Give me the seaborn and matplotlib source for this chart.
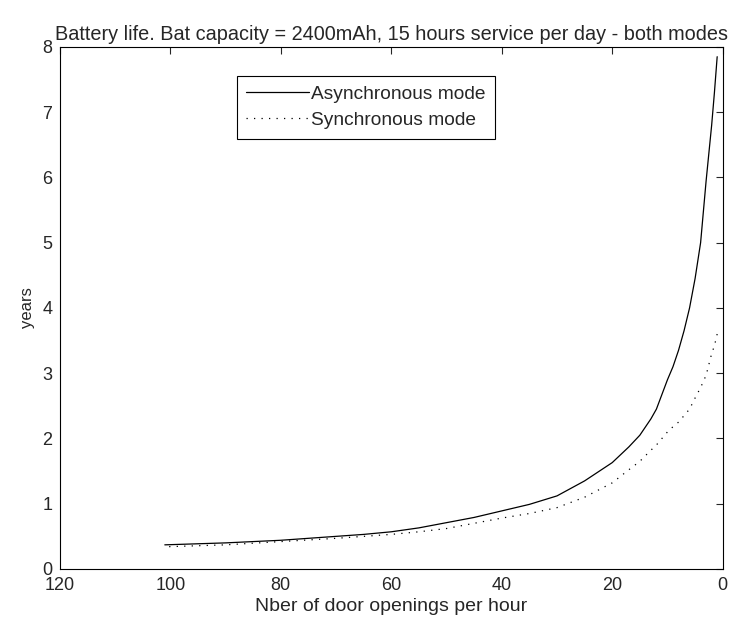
import pandas as pd
import matplotlib
matplotlib.use('Agg')
import matplotlib.pyplot as plt
import seaborn as sns

# door openings per hour
openings = [1, 1.5, 2, 3, 4, 5, 6, 7, 8, 9, 10, 12, 13, 15, 17, 20, 25, 30, 35, 40, 45, 50,
            55, 60, 65, 70, 80, 90, 101]
# battery life in years
async_years = [7.85, 7.3, 6.8, 5.95, 5.0, 4.45, 4.0, 3.65, 3.35, 3.1, 2.9, 2.45, 2.3, 2.05,
               1.87, 1.63, 1.35, 1.12, 0.99, 0.89, 0.79, 0.71, 0.63, 0.57, 0.53, 0.50, 0.44,
               0.40, 0.37]
sync_years = [3.6, 3.42, 3.3, 2.97, 2.78, 2.62, 2.45, 2.35, 2.25, 2.18, 2.1, 1.9, 1.82, 1.65,
              1.52, 1.32, 1.1, 0.94, 0.85, 0.78, 0.70, 0.62, 0.57, 0.53, 0.50, 0.47, 0.42,
              0.37, 0.34]

x_ticks = [120, 100, 80, 60, 40, 20, 0]
y_ticks = [0, 1, 2, 3, 4, 5, 6, 7, 8]

sns.set_style('white')
plt.rcParams['font.family'] = ['Liberation Sans', 'DejaVu Sans']

df_async = pd.DataFrame({'openings': openings, 'years': async_years})
df_sync = pd.DataFrame({'openings': openings, 'years': sync_years})

fig = plt.figure(figsize=(7.3, 6.23), dpi=100)
ax = fig.add_axes([0.082, 0.0867, 0.908, 0.838])

sns.lineplot(data=df_async, x='openings', y='years', ax=ax, color='black', linewidth=0.9,
             label='Asynchronous mode')
sns.lineplot(data=df_sync, x='openings', y='years', ax=ax, color='black', linewidth=0.9,
             linestyle=(0, (1, 5)), label='Synchronous mode')

ax.set_xlim(120, 0)
ax.set_ylim(0, 8)
ax.set_xticks(x_ticks)
ax.set_yticks(y_ticks)
ax.tick_params(direction='in', length=5, width=0.8, top=True, right=True, labelsize=13)
ax.tick_params(axis='x', pad=6)
ax.tick_params(axis='y', pad=5.5)
for s in ax.spines.values():
    s.set_color('black')
    s.set_linewidth(0.8)

ax.set_title('Battery life. Bat capacity = 2400mAh, 15 hours service per day - both modes',
             fontsize=14.3, pad=5)
ax.set_xlabel('Nber of door openings per hour', fontsize=14, labelpad=3)
ax.set_ylabel('years', fontsize=12, labelpad=5)

leg = ax.legend(loc='upper left', bbox_to_anchor=(0.2665, 0.944), borderaxespad=0,
                fontsize=13.8, fancybox=False, framealpha=1, edgecolor='black',
                handlelength=3.3, borderpad=0.5, labelspacing=0.45, handletextpad=0.1)
leg.get_frame().set_linewidth(0.8)

fig.savefig('out.png', dpi=100)
